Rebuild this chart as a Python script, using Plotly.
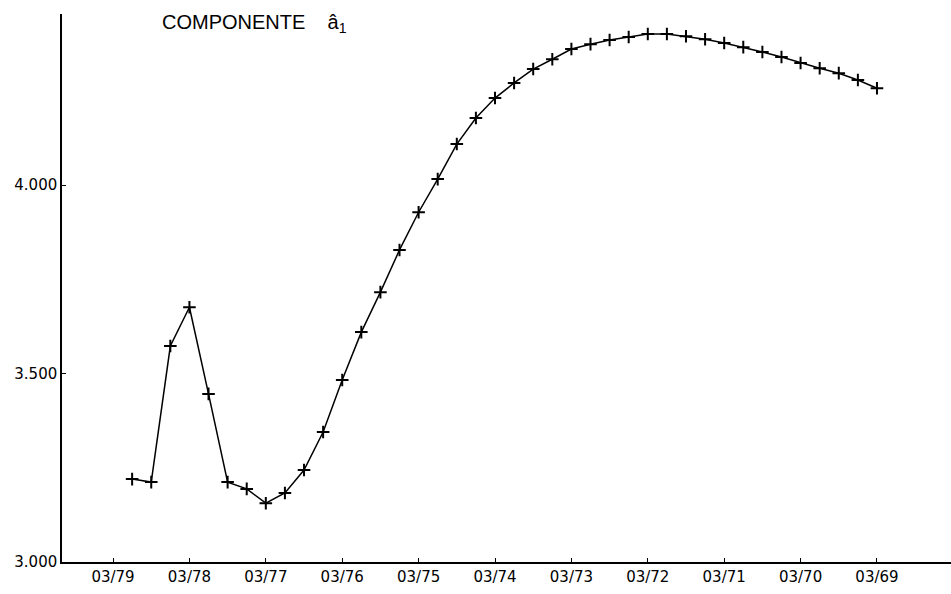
import plotly.graph_objects as go

# Quarterly series, most recent quarter first (12/78 back to 03/69)
quarters = [
    "12/78", "09/78", "06/78", "03/78", "12/77", "09/77", "06/77", "03/77",
    "12/76", "09/76", "06/76", "03/76", "12/75", "09/75", "06/75", "03/75",
    "12/74", "09/74", "06/74", "03/74", "12/73", "09/73", "06/73", "03/73",
    "12/72", "09/72", "06/72", "03/72", "12/71", "09/71", "06/71", "03/71",
    "12/70", "09/70", "06/70", "03/70", "12/69", "09/69", "06/69", "03/69",
]
a1_values = [
    3.220, 3.212, 3.573, 3.676, 3.446, 3.212, 3.194, 3.156,
    3.183, 3.244, 3.345, 3.483, 3.610, 3.716, 3.828, 3.928,
    4.016, 4.109, 4.178, 4.231, 4.271, 4.308, 4.334, 4.361,
    4.374, 4.385, 4.393, 4.401, 4.401, 4.395, 4.387, 4.377,
    4.366, 4.353, 4.340, 4.324, 4.310, 4.297, 4.279, 4.257,
]
tick_labels = ["03/79", "03/78", "03/77", "03/76", "03/75", "03/74",
               "03/73", "03/72", "03/71", "03/70", "03/69"]
y_tick_labels = ["3.000", "3.500", "4.000"]


def to_year(label):
    month, year = label.split("/")
    return 1900 + int(year) + (int(month) - 3) / 12.0


x_vals = [to_year(q) for q in quarters]
tick_vals = [to_year(t) for t in tick_labels]
y_tick_vals = [float(v) for v in y_tick_labels]

fig = go.Figure(
    go.Scatter(
        x=x_vals,
        y=a1_values,
        mode="lines+markers",
        line=dict(color="black", width=1.5),
        marker=dict(symbol="cross-thin", size=9,
                    line=dict(color="black", width=2)),
        showlegend=False,
        hoverinfo="skip",
    )
)

tick_font = dict(family="DejaVu Sans", size=15, color="black")

fig.update_layout(
    width=951,
    height=594,
    margin=dict(l=62, r=0, t=14, b=32),
    paper_bgcolor="white",
    plot_bgcolor="white",
    title=dict(
        text="COMPONENTE\u00a0\u00a0\u00a0\u00a0â<sub>1</sub>",
        x=162 / 951,
        xanchor="left",
        xref="container",
        y=1 - 22 / 594,
        yanchor="middle",
        yref="container",
        font=dict(family="Liberation Sans", size=20, color="black"),
    ),
    xaxis=dict(
        range=[1979.668, 1968.031],
        tickvals=tick_vals,
        ticktext=tick_labels,
        ticks="inside",
        ticklen=4,
        tickwidth=1.2,
        tickcolor="black",
        showline=True,
        linecolor="black",
        linewidth=1.5,
        showgrid=False,
        zeroline=False,
        tickfont=tick_font,
    ),
    yaxis=dict(
        range=[3.0, 4.454],
        tickvals=y_tick_vals,
        ticktext=y_tick_labels,
        ticks="inside",
        ticklen=4,
        tickwidth=1.2,
        tickcolor="black",
        showline=True,
        linecolor="black",
        linewidth=1.5,
        showgrid=False,
        zeroline=False,
        tickfont=tick_font,
    ),
)

fig.write_html("out.html")
